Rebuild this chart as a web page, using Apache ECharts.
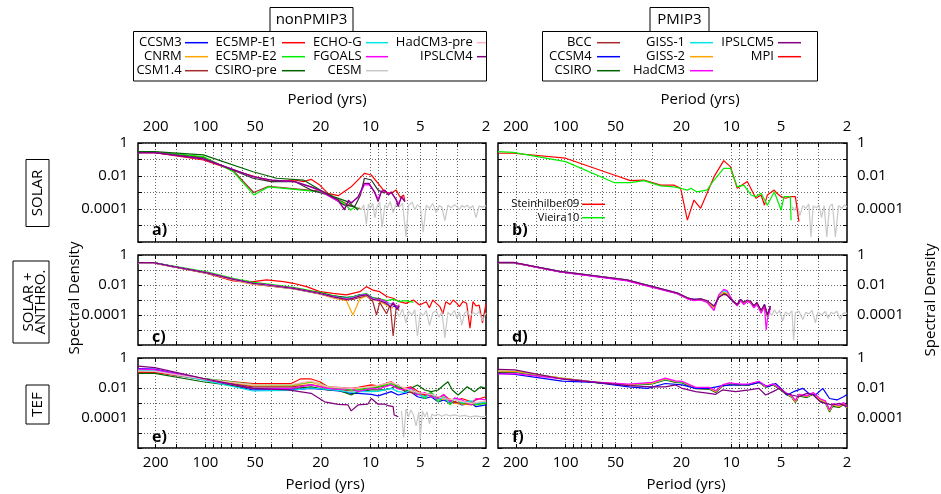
<!DOCTYPE html>
<html><head><meta charset="utf-8">
<script src="https://cdn.jsdelivr.net/npm/echarts@6.0.0/dist/echarts.min.js"></script>
<style>html,body{margin:0;padding:0;background:#fff}#c{width:941px;height:494px}</style>
</head><body><div id="c"></div><script>
// ---------- tick labels ----------
const PERIOD_MAJOR = [200, 100, 50, 20, 10, 5, 2];
const PERIOD_GRID = [200, 150, 100, 90, 80, 70, 60, 50, 40, 30, 20, 10, 9, 8, 7, 6, 5, 4, 3];
const PERIOD_MIN = 2, PERIOD_MAX = 256;
const Y_LABELS = {0: '1', '-2': '0.01', '-4': '0.0001'};

// ---------- colours ----------
const C = {blue:'#0000ff', orange:'#ffa500', brown:'#a52a2a', red:'#ff0000', lgreen:'#00ee00', dgreen:'#006400',
  cyan:'#00e5e5', magenta:'#ff00ff', gray:'#c8c8c8', pink:'#ffb6c1', purple:'#800080', dark:'#333333'};

// ---------- panel a : SOLAR nonPMIP3  [period, spectral density] ----------
const a_csm14 = [[256,0.28],[203,0.27],[103,0.14],[67.7,0.02],[51,0.001],[41.5,0.0024],[20.3,0.0012],[17.3,0.0006],[14.5,0.00025],[12.5,0.00013],[11.5,0.0001]];
const a_ec5e1 = [[256,0.26],[203,0.26],[103,0.093],[63.5,0.018],[51.5,0.010],[40,0.0046],[28.8,0.0057],[25.5,0.0046],[22.9,0.0063],[20.3,0.0028],[18.1,0.00089],[15.7,0.00064],[13.1,0.0022],[10.9,0.0145],[9.9,0.0115],[9.0,0.0036],[8.2,0.0011],[7.5,0.00089],[7.0,0.0014],[6.6,0.0005],[6.3,0.0007],[6.2,0.00028]];
const a_ec5e2 = [[256,0.28],[203,0.27],[103,0.15],[67.7,0.018],[51,0.00071],[41.5,0.0022],[20.3,0.0011],[17.3,0.00056],[14.5,0.00022],[13.2,0.000087],[12.4,0.00014],[11.9,0.000087]];
const a_csiropre = [[256,0.30],[203,0.30],[103,0.19],[51.5,0.018],[37,0.0073],[25.5,0.0057],[20.2,0.0014],[16.8,0.00056],[13.8,0.00028],[11.9,0.000087]];
const a_dark = [[256,0.26],[203,0.26],[103,0.12],[51.5,0.0073],[40,0.0046],[28.8,0.0046],[22.9,0.0014],[18.1,0.00071],[14.4,0.00017],[12.5,0.000138],[11.5,0.00071],[10.9,0.0073],[9.9,0.0057],[9.0,0.0014],[8.2,0.00089]];
const a_fgoals = [[256,0.26],[203,0.26],[103,0.11],[51.5,0.009],[40,0.0057],[28.8,0.0046],[22.9,0.0021],[20.3,0.0013],[17.3,0.0005],[15.7,0.0003],[14.4,0.0001],[13.6,0.0003],[13.1,0.00025],[11.9,0.0005],[10.9,0.0029],[10.2,0.003],[9.5,0.0012],[9.0,0.0004],[8.6,0.0012],[8.2,0.0013],[7.8,0.0008],[7.5,0.001],[7.0,0.0004],[6.8,0.0002],[6.5,0.0005],[6.2,0.0003]];
const a_cesm = [[11.8,0.00014],[11.4,0.00009],[11.0,0.00018],[10.6,0.000012],[10.3,0.0002],[10.0,0.00011],[9.7,0.00022],[9.4,0.00003],[9.1,0.00016],[8.8,0.00025],[8.5,0.000008],[8.2,0.00017],[7.9,0.00012],[7.6,0.00028],[7.3,0.00006],[7.0,0.0002],[6.7,0.00013],[6.4,0.00022],[6.1,0.000002],[5.9,0.00016],[5.6,0.00026],[5.4,0.00009],[5.2,0.00018],[5.0,0.00013],[4.8,0.000004],[4.6,0.00017],[4.4,0.00011],[4.2,0.00021],[4.0,0.00006],[3.85,0.00016],[3.7,0.00013],[3.55,0.00002],[3.4,0.00017],[3.25,0.00012],[3.1,0.00018],[3.0,0.00014],[2.9,0.00009],[2.8,0.00016],[2.7,0.00013],[2.6,0.00017],[2.5,0.00011],[2.4,0.00016],[2.3,0.00003],[2.2,0.00015],[2.1,0.00013],[2.0,0.00016]];
const a_ipslcm4 = [[256,0.26],[203,0.26],[103,0.11],[51.5,0.0091],[40,0.0057],[28.8,0.0046],[22.9,0.0022],[20.3,0.0014],[17.3,0.00056],[15.7,0.00035],[14.4,0.000087],[13.6,0.00035],[13.1,0.00022],[11.9,0.00056],[10.9,0.0036],[10.2,0.0036],[9.5,0.0011],[9.0,0.00028],[8.6,0.0011],[8.2,0.0014],[7.8,0.0007],[7.5,0.0011],[7.0,0.00035],[6.8,0.00014],[6.5,0.00056],[6.2,0.00028]];

// ---------- panel b : SOLAR PMIP3 ----------
const b_stein = [[256,0.24],[207,0.24],[100,0.12],[51,0.0115],[40.6,0.0052],[33.7,0.0057],[26.7,0.0028],[22.2,0.0028],[20.2,0.0018],[18.4,0.000021],[16.8,0.00035],[15.3,0.00011],[14,0.00089],[12.7,0.0091],[11.1,0.085],[10.1,0.036],[9.2,0.0018],[8,0.0046],[7.1,0.00045],[6.6,0.00071],[6.3,0.00017],[6.05,0.00071],[5.5,0.0014],[5.3,0.00089],[5.0,0.00056],[4.7,0.00045],[4.4,0.00056],[4.1,0.00056],[3.9,0.000017]];
const b_vieira = [[256,0.30],[207,0.27],[100,0.074],[51,0.0040],[40.6,0.0040],[33.7,0.0052],[26.7,0.0025],[22.2,0.0022],[20.2,0.0018],[18.4,0.0014],[17.5,0.0018],[16.2,0.0011],[14.0,0.0014],[12.7,0.0057],[11.1,0.029],[10.1,0.029],[9.2,0.0022],[8.4,0.0028],[7.6,0.00071],[7.1,0.00056],[6.6,0.00089],[6.05,0.00017],[5.5,0.0011],[5.0,0.000087],[4.8,0.00056],[4.4,0.00056],[4.35,0.000021]];
const b_gray = [[4.3,0.00015],[4.15,0.00008],[4.0,0.00019],[3.85,0.00004],[3.7,0.00016],[3.55,0.00011],[3.4,0.0002],[3.3,0.000002],[3.2,0.00015],[3.05,0.00012],[2.95,0.00018],[2.85,0.00003],[2.75,0.00016],[2.65,0.000002],[2.55,0.00014],[2.45,0.0002],[2.35,0.000002],[2.25,0.00016],[2.15,0.00011],[2.07,0.00018],[2.0,0.00013]];

// ---------- panel c : SOLAR + ANTHRO. nonPMIP3 ----------
const c_ccsm3 = [[256,0.31],[207,0.31],[156,0.17],[98,0.063],[67.8,0.023],[51.3,0.012],[42.6,0.0095],[29.4,0.0058],[20.3,0.0026],[16.9,0.0016],[14,0.0012],[12.8,0.0014],[11.6,0.0019],[10.6,0.0021],[9.7,0.0012],[8.8,0.0009],[8.0,0.0005],[7.3,0.0004],[6.7,0.00028]];
const c_cnrm = [[256,0.3],[207,0.3],[156,0.16],[98,0.06],[67.8,0.02],[51.3,0.011],[42.6,0.009],[29.4,0.0055],[20.3,0.0025],[16.9,0.0014],[14,0.0009],[12.8,0.0001],[11.6,0.0012],[10.6,0.0018],[9.7,0.0011],[8.8,0.0008],[8.0,0.00045],[7.3,0.0003]];
const c_csm14 = [[256,0.31],[207,0.3],[156,0.16],[98,0.062],[67.8,0.022],[51.3,0.012],[42.6,0.009],[29.4,0.0056],[20.3,0.0025],[16.9,0.0015],[14,0.001],[12.8,0.0011],[11.6,0.0015],[10.6,0.002],[9.7,0.0008],[9.2,0.0001],[8.8,0.0007],[8.0,0.00012],[7.6,0.0005],[7.3,0.000004],[7.0,0.0003],[6.7,0.0002]];
const c_ec5e1 = [[256,0.31],[207,0.31],[156,0.17],[98,0.06],[67.8,0.019],[51.3,0.017],[42.6,0.022],[33.7,0.017],[29.4,0.013],[24.4,0.0078],[20.3,0.0036],[16.9,0.0028],[14,0.0022],[11.6,0.0036],[10.6,0.0078],[9.7,0.0046],[8.8,0.0036],[8.0,0.0017],[7.3,0.0013],[6.7,0.00077],[6.1,0.0006],[5.5,0.001],[5.05,0.00046],[4.6,0.00077],[4.4,0.0003],[4.2,0.001],[4.0,0.0006],[3.8,0.00036],[3.65,0.00012],[3.5,0.00077],[3.3,0.0005],[3.16,0.001],[3.0,0.0006],[2.9,0.00036],[2.75,0.0008],[2.62,0.0006],[2.5,0.000013],[2.4,0.00077],[2.3,0.0004],[2.2,0.00046],[2.1,0.00003],[2.0,0.0006]];
const c_ec5e2 = [[256,0.31],[207,0.31],[156,0.18],[98,0.075],[67.8,0.028],[51.3,0.015],[42.6,0.012],[29.4,0.007],[20.3,0.0033],[16.9,0.002],[14,0.0014],[12.8,0.0016],[11.6,0.0022],[10.6,0.0027],[9.7,0.0014],[8.8,0.0012],[8.0,0.0009],[7.3,0.0011],[6.7,0.0008],[6.1,0.0009],[5.5,0.0007]];
const c_csiropre = [[256,0.31],[207,0.31],[156,0.17],[98,0.065],[67.8,0.024],[51.3,0.013],[42.6,0.0105],[29.4,0.0063],[20.3,0.003],[16.9,0.0019],[14,0.0015],[12.8,0.0016],[11.6,0.0023],[10.6,0.0024],[9.7,0.0014],[8.8,0.0012],[8.0,0.0006],[7.3,0.0005],[6.7,0.00035]];
const c_echog = [[256,0.31],[207,0.31],[156,0.17],[98,0.064],[67.8,0.024],[51.3,0.013],[42.6,0.01],[29.4,0.0058],[20.3,0.0027],[16.9,0.0017],[14,0.0013],[12.8,0.0015],[11.6,0.0021],[10.6,0.0024],[9.7,0.0013],[8.8,0.001],[8.0,0.0007],[7.3,0.0005]];
const c_fgoals = [[256,0.31],[207,0.31],[156,0.17],[98,0.066],[67.8,0.025],[51.3,0.013],[42.6,0.0105],[29.4,0.0062],[20.3,0.0028],[16.9,0.0017],[14,0.0012],[12.8,0.0014],[11.6,0.002],[10.6,0.0024],[9.7,0.0012],[8.8,0.0011],[8.0,0.0008],[7.6,0.0004],[7.3,0.0007],[6.9,0.0003],[6.7,0.0005]];
const c_cesm = [[7.0,0.0002],[6.7,0.00008],[6.4,0.00025],[6.1,0.00003],[5.9,0.00018],[5.6,0.0001],[5.4,0.00022],[5.2,0.000004],[5.0,0.00015],[4.8,0.00009],[4.6,0.0002],[4.4,0.00002],[4.2,0.00014],[4.0,0.0002],[3.85,0.00007],[3.7,0.00017],[3.55,0.000003],[3.4,0.00015],[3.25,0.0001],[3.1,0.0002],[3.0,0.00006],[2.9,0.00016],[2.8,0.00002],[2.7,0.00013],[2.6,0.00018],[2.5,0.00008],[2.4,0.00015],[2.3,0.00011],[2.2,0.00017],[2.1,0.00004],[2.0,0.00014]];
const c_hadcm3pre = [[256,0.3],[207,0.3],[156,0.165],[98,0.062],[67.8,0.022],[51.3,0.012],[42.6,0.0095],[29.4,0.0058],[20.3,0.0026],[16.9,0.0015],[14,0.0011],[12.8,0.0013],[11.6,0.0018],[10.6,0.0021],[9.7,0.0011],[8.8,0.0009],[8.0,0.0006],[7.3,0.0004]];
const c_ipslcm4 = [[256,0.31],[207,0.31],[156,0.17],[98,0.065],[67.8,0.024],[51.3,0.013],[42.6,0.01],[29.4,0.006],[20.3,0.0027],[16.9,0.0016],[14,0.0011],[12.8,0.0013],[11.6,0.0019],[10.6,0.0022],[9.7,0.0011],[8.8,0.0009],[8.0,0.0006],[7.6,0.00035],[7.3,0.0006],[6.9,0.00025],[6.7,0.0004]];

// ---------- panel d : SOLAR + ANTHRO. PMIP3 ----------
const d_bcc = [[256,0.31],[207,0.31],[108,0.077],[42.6,0.021],[21.2,0.0028],[18.4,0.0013],[16.8,0.001],[15.3,0.0011],[14,0.0008],[12.7,0.0003],[11.9,0.0015],[11.1,0.0026],[10.6,0.0022],[9.8,0.0008],[9.2,0.00046],[8.8,0.001],[8.4,0.0006],[8.0,0.0009],[7.6,0.0007],[7.3,0.00036],[7.0,0.0006],[6.6,0.00017],[6.3,0.00046],[6.05,0.00008],[5.8,0.00036]];
const d_ccsm4 = [[256,0.31],[207,0.31],[108,0.076],[42.6,0.02],[21.2,0.0027],[18.4,0.0013],[16.8,0.0011],[15.3,0.0011],[14,0.00075],[12.7,0.00032],[11.9,0.0016],[11.1,0.0029],[10.6,0.0024],[9.8,0.0008],[9.2,0.0005],[8.8,0.0011],[8.4,0.0006],[8.0,0.0009],[7.6,0.00065],[7.3,0.0004],[7.0,0.0006],[6.6,0.0002],[6.3,0.0005],[6.05,0.0001],[5.8,0.0004]];
const d_csiro = [[256,0.31],[207,0.31],[108,0.078],[42.6,0.021],[21.2,0.0029],[18.4,0.0014],[16.8,0.001],[15.3,0.0012],[14,0.0008],[12.7,0.00035],[11.9,0.0016],[11.1,0.0027],[10.6,0.0023],[9.8,0.0009],[9.2,0.0005],[8.8,0.001],[8.4,0.00065],[8.0,0.0009],[7.6,0.0007],[7.3,0.0004],[7.0,0.00055],[6.6,0.0002],[6.3,0.0004],[6.05,0.0001],[5.8,0.0003]];
const d_giss1 = [[256,0.31],[207,0.31],[108,0.08],[42.6,0.022],[21.2,0.0029],[18.4,0.0013],[16.8,0.001],[15.3,0.0011],[14,0.0008],[12.7,0.0003],[11.9,0.0019],[11.1,0.0042],[10.6,0.0033],[9.8,0.0009],[9.2,0.00046],[8.8,0.001],[8.4,0.0006],[8.0,0.0009],[7.6,0.0007],[7.3,0.00036],[7.0,0.0006],[6.6,0.00017],[6.3,0.00046],[6.05,0.00008],[5.8,0.00036]];
const d_giss2 = [[256,0.31],[207,0.31],[108,0.079],[42.6,0.021],[21.2,0.0028],[18.4,0.0013],[16.8,0.001],[15.3,0.0011],[14,0.0008],[12.7,0.0003],[11.9,0.0017],[11.1,0.0032],[10.6,0.0027],[9.8,0.0009],[9.2,0.00046],[8.8,0.001],[8.4,0.0006],[8.0,0.0009],[7.6,0.0007],[7.3,0.00036],[7.0,0.0006],[6.6,0.00018],[6.3,0.00045],[6.05,0.00009],[5.8,0.00035]];
const d_hadcm3 = [[256,0.31],[207,0.31],[108,0.074],[42.6,0.019],[21.2,0.0026],[18.4,0.0012],[16.8,0.0009],[15.3,0.001],[14,0.0007],[12.7,0.0002],[11.9,0.0022],[11.1,0.0051],[10.6,0.0042],[9.8,0.0009],[9.2,0.0004],[8.8,0.0009],[8.4,0.0005],[8.0,0.0008],[7.6,0.0006],[7.3,0.0003],[7.0,0.0005],[6.6,0.00013],[6.3,0.00035],[6.15,0.00001],[6.05,0.00005],[5.8,0.0003]];
const d_ipslcm5 = [[256,0.32],[207,0.32],[108,0.082],[42.6,0.022],[21.2,0.003],[18.4,0.0014],[16.8,0.0011],[15.3,0.0012],[14,0.0009],[12.7,0.0004],[11.9,0.0015],[11.1,0.0024],[10.6,0.0021],[9.8,0.0009],[9.2,0.0005],[8.8,0.0011],[8.4,0.0007],[8.0,0.001],[7.6,0.0008],[7.3,0.0004],[7.0,0.0007],[6.6,0.0002],[6.3,0.0005],[6.05,0.0001],[5.8,0.0004]];
const d_mpi = [[256,0.31],[207,0.31],[108,0.078],[42.6,0.021],[21.2,0.0028],[18.4,0.0013],[16.8,0.001],[15.3,0.0011],[14,0.0008],[12.7,0.0003],[11.9,0.0016],[11.1,0.0027],[10.6,0.0023],[9.8,0.0008],[9.2,0.00046],[8.8,0.001],[8.4,0.0006],[8.0,0.0009],[7.6,0.0007],[7.3,0.00036],[7.0,0.0006],[6.6,0.00017],[6.3,0.00046],[6.05,0.00008],[5.8,0.00036]];
const d_gray = [[5.9,0.00018],[5.7,0.00009],[5.5,0.00022],[5.3,0.00012],[5.1,0.0002],[4.9,0.00004],[4.7,0.00016],[4.5,0.00011],[4.3,0.00019],[4.2,0.000002],[4.1,0.00014],[3.9,0.00018],[3.7,0.00005],[3.55,0.00015],[3.4,0.00012],[3.25,0.0002],[3.1,0.00003],[3.0,0.00016],[2.85,0.0001],[2.7,0.00017],[2.6,0.00006],[2.5,0.00015],[2.4,0.00012],[2.3,0.00018],[2.2,0.00005],[2.1,0.00014],[2.0,0.00013]];

// ---------- panel e : TEF nonPMIP3 ----------
const e_ccsm3 = [[256,0.2],[203,0.18],[103.5,0.04],[51.5,0.0074],[30.2,0.0074],[22.9,0.0095],[18.1,0.0074],[15.7,0.0063],[13.1,0.0044],[11.9,0.0044],[9.9,0.0038],[9.0,0.003],[7.5,0.0057],[6.8,0.0034],[6.2,0.0044],[5.7,0.0057],[5.2,0.0026],[4.7,0.002],[4.3,0.0026],[3.9,0.0012],[3.6,0.0016],[3.3,0.00095],[3.1,0.0012],[2.8,0.00074],[2.45,0.00095],[2.3,0.00057],[2.0,0.00074]];
const e_cnrm = [[256,0.12],[203,0.12],[103.5,0.04],[51.5,0.014],[30.2,0.014],[22.9,0.024],[18.1,0.011],[13.1,0.0086],[9.9,0.012],[7.5,0.02],[6.2,0.0082],[5.2,0.0044],[4.3,0.0034],[3.9,0.0016],[3.3,0.002],[3.1,0.00095],[2.45,0.00074],[2.0,0.0012]];
const e_csm14 = [[256,0.12],[203,0.12],[103.5,0.036],[51.5,0.012],[30.2,0.012],[22.9,0.017],[18.1,0.0095],[13.1,0.0063],[9.9,0.0095],[7.5,0.016],[6.2,0.0063],[5.2,0.0038],[4.3,0.003],[3.6,0.0022],[3.1,0.0011],[2.45,0.00082],[2.0,0.0011]];
const e_ec5e1 = [[256,0.11],[203,0.11],[103.5,0.04],[51.5,0.02],[30.2,0.02],[26.6,0.04],[22.9,0.04],[20.3,0.026],[18.1,0.012],[15.7,0.011],[13.1,0.0095],[11.9,0.011],[9.9,0.016],[9.0,0.014],[7.5,0.026],[6.8,0.012],[6.2,0.0095],[5.7,0.012],[5.2,0.0063],[4.7,0.0034],[4.3,0.0044],[3.9,0.002],[3.6,0.0034],[3.3,0.0016],[3.1,0.0012],[2.8,0.002],[2.45,0.0012],[2.3,0.0016],[2.0,0.0026]];
const e_ec5e2 = [[256,0.16],[203,0.14],[103.5,0.044],[51.5,0.017],[30.2,0.016],[26.6,0.02],[22.9,0.026],[20.3,0.02],[18.1,0.012],[15.7,0.0095],[13.1,0.0074],[11.9,0.0074],[9.9,0.011],[9.0,0.012],[7.5,0.02],[6.8,0.012],[6.2,0.0074],[5.7,0.0095],[5.2,0.0044],[4.7,0.002],[4.3,0.0057],[3.9,0.0012],[3.6,0.0026],[3.3,0.00074],[3.1,0.002],[2.8,0.00095],[2.45,0.0012],[2.3,0.00074],[2.0,0.00095]];
const e_csiropre = [[256,0.095],[203,0.095],[103.5,0.026],[51.5,0.0095],[30.2,0.0095],[22.9,0.012],[18.1,0.0074],[15.7,0.0074],[13.1,0.0034],[11.9,0.0057],[9.9,0.0074],[8.2,0.0074],[7.5,0.0095],[6.8,0.016],[6.2,0.0057],[5.7,0.0095],[5.2,0.016],[4.7,0.0074],[4.3,0.0057],[3.9,0.0074],[3.6,0.016],[3.4,0.026],[3.2,0.0074],[2.95,0.0034],[2.6,0.012],[2.35,0.0057],[2.15,0.012],[2.0,0.0095]];
const e_echog = [[256,0.16],[203,0.14],[103.5,0.034],[51.5,0.0063],[30.2,0.007],[22.9,0.01],[18.1,0.008],[15.7,0.007],[13.1,0.005],[11.9,0.006],[9.9,0.0057],[9.0,0.006],[7.5,0.0095],[6.8,0.0057],[6.2,0.005],[5.7,0.0074],[5.2,0.004],[4.7,0.0026],[4.3,0.004],[3.9,0.0018],[3.6,0.0022],[3.3,0.0012],[3.1,0.0018],[2.8,0.0011],[2.45,0.0014],[2.3,0.00095],[2.0,0.0012]];
const e_fgoals = [[256,0.18],[203,0.17],[103.5,0.04],[51.5,0.0095],[30.2,0.0095],[22.9,0.016],[18.1,0.0095],[15.7,0.0082],[13.1,0.0095],[11.9,0.0057],[9.9,0.0095],[9.0,0.0086],[7.5,0.016],[6.8,0.0086],[6.2,0.0074],[5.7,0.0105],[5.2,0.0034],[4.7,0.005],[4.3,0.0026],[3.9,0.002],[3.6,0.0038],[3.3,0.0012],[3.1,0.0022],[2.8,0.0016],[2.45,0.00074],[2.3,0.002],[2.0,0.0016]];
const e_cesm = [[6.5,0.0003],[6.3,0.000005],[6.1,0.0004],[5.9,0.00012],[5.7,0.00035],[5.5,0.00016],[5.3,0.00003],[5.1,0.00025],[5.0,0.000004],[4.85,0.0003],[4.7,0.00012],[4.55,0.00025],[4.4,0.00004],[4.25,0.00018],[4.1,0.00014],[3.9,0.00018],[3.7,0.00013],[3.5,0.00017],[3.3,0.00014],[3.1,0.00016],[2.9,0.00013],[2.7,0.00015],[2.5,0.00012],[2.3,0.00014],[2.15,0.00012],[2.0,0.00013]];
const e_hadcm3pre = [[256,0.135],[203,0.13],[103.5,0.04],[51.5,0.016],[30.2,0.017],[22.9,0.029],[18.1,0.012],[13.1,0.0095],[9.9,0.012],[7.5,0.024],[6.2,0.0095],[5.2,0.005],[4.3,0.0038],[3.6,0.002],[3.1,0.0016],[2.45,0.00095],[2.0,0.0014]];
const e_ipslcm4 = [[256,0.29],[203,0.23],[103.5,0.044],[51.5,0.0095],[31.6,0.0074],[22.9,0.0044],[19,0.0012],[15.7,0.00082],[13.7,0.00074],[13.1,0.0003],[11.9,0.00074],[10.4,0.00083],[9.9,0.002],[9.0,0.00083],[8.2,0.00083],[7.8,0.00066],[7.3,0.00057],[7.2,0.00016],[6.8,0.00012]];

// ---------- panel f : TEF PMIP3 ----------
const f_bcc = [[256,0.11],[202,0.11],[105,0.044],[66,0.024],[41.6,0.016],[30,0.02],[25,0.036],[21.7,0.026],[19.8,0.024],[16.4,0.0095],[13.6,0.009],[12.4,0.0055],[11.3,0.0135],[10.3,0.019],[9.4,0.017],[8.6,0.016],[7.8,0.017],[6.8,0.025],[6.2,0.012],[5.6,0.017],[5.1,0.009],[4.7,0.0042],[4.3,0.0025],[4.1,0.0012],[3.9,0.0033],[3.5,0.0025],[3.2,0.0042],[2.9,0.0016],[2.7,0.0012],[2.55,0.0003],[2.44,0.0007],[2.23,0.00055],[2.1,0.0009],[2.0,0.0005]];
const f_ccsm4 = [[256,0.095],[202,0.082],[105,0.029],[66,0.024],[41.6,0.012],[32,0.0095],[25,0.02],[19.8,0.016],[16.4,0.0095],[13.6,0.0095],[11.3,0.0144],[9.4,0.016],[7.8,0.016],[6.8,0.024],[6.0,0.012],[5.4,0.02],[5.0,0.0095],[4.6,0.0034],[4.2,0.0057],[3.7,0.0095],[3.4,0.0044],[3.1,0.0034],[2.8,0.0095],[2.55,0.002],[2.3,0.0016],[2.1,0.0026],[2.0,0.0037]];
const f_csiro = [[256,0.12],[202,0.12],[105,0.042],[66,0.023],[41.6,0.015],[30,0.019],[25,0.034],[21.7,0.024],[19.8,0.022],[16.4,0.009],[13.6,0.0085],[12.4,0.005],[11.3,0.013],[10.3,0.018],[9.4,0.016],[8.6,0.015],[7.8,0.016],[6.8,0.024],[6.2,0.011],[5.6,0.016],[5.1,0.0085],[4.7,0.004],[4.3,0.0023],[4.1,0.0011],[3.9,0.003],[3.5,0.0023],[3.2,0.0038],[2.9,0.0014],[2.7,0.001],[2.55,0.00025],[2.44,0.0006],[2.23,0.0005],[2.1,0.0008],[2.0,0.00045]];
const f_giss1 = [[256,0.13],[202,0.125],[105,0.045],[66,0.025],[41.6,0.016],[30,0.021],[25,0.038],[21.7,0.027],[19.8,0.025],[16.4,0.01],[13.6,0.0095],[12.4,0.0058],[11.3,0.014],[10.3,0.02],[9.4,0.018],[8.6,0.016],[7.8,0.018],[6.8,0.026],[6.2,0.012],[5.6,0.018],[5.1,0.0095],[4.7,0.0044],[4.3,0.0026],[4.1,0.0013],[3.9,0.0034],[3.5,0.0026],[3.2,0.0044],[2.9,0.0016],[2.7,0.0012],[2.55,0.0003],[2.44,0.00075],[2.23,0.0006],[2.1,0.00095],[2.0,0.0005]];
const f_giss2 = [[256,0.135],[202,0.13],[105,0.046],[66,0.025],[41.6,0.017],[30,0.021],[25,0.04],[21.7,0.027],[19.8,0.026],[16.4,0.0095],[13.6,0.0095],[12.4,0.0057],[11.3,0.0144],[10.3,0.02],[9.4,0.0175],[8.6,0.016],[7.8,0.0175],[6.8,0.026],[6.2,0.012],[5.6,0.0175],[5.1,0.0095],[4.7,0.0044],[4.3,0.0026],[4.1,0.0012],[3.9,0.0034],[3.5,0.0026],[3.2,0.0044],[2.9,0.0016],[2.7,0.0012],[2.55,0.0003],[2.44,0.00074],[2.23,0.00057],[2.1,0.00095],[2.0,0.0005]];
const f_hadcm3 = [[256,0.086],[202,0.09],[105,0.04],[66,0.025],[41.6,0.018],[30,0.024],[25,0.046],[21.7,0.03],[19.8,0.028],[16.4,0.011],[13.6,0.011],[12.4,0.0065],[11.3,0.016],[10.3,0.022],[9.4,0.02],[8.6,0.018],[7.8,0.019],[6.8,0.028],[6.2,0.013],[5.6,0.019],[5.1,0.01],[4.7,0.005],[4.3,0.003],[4.1,0.0015],[3.9,0.0038],[3.5,0.003],[3.2,0.005],[2.9,0.0019],[2.7,0.0014],[2.55,0.00035],[2.44,0.0009],[2.23,0.0007],[2.1,0.0011],[2.0,0.0006]];
const f_ipslcm5 = [[256,0.175],[202,0.16],[105,0.04],[41.6,0.0144],[30,0.012],[25,0.012],[21.7,0.016],[19.8,0.0095],[16.4,0.0057],[13.6,0.0044],[12.4,0.0038],[11.3,0.0074],[9.4,0.0057],[7.8,0.0074],[6.8,0.0095],[6.2,0.0034],[5.6,0.0057],[5.1,0.0095],[4.7,0.0044],[4.3,0.0034],[3.9,0.0026],[3.5,0.0044],[3.2,0.0034],[2.9,0.0012],[2.7,0.00095],[2.44,0.00074],[2.23,0.00095],[2.0,0.00057]];
const f_mpi = [[256,0.12],[202,0.12],[105,0.044],[66,0.024],[41.6,0.016],[30,0.02],[25,0.038],[21.7,0.026],[19.8,0.025],[16.4,0.0095],[13.6,0.009],[12.4,0.0056],[11.3,0.014],[10.3,0.019],[9.4,0.017],[8.6,0.016],[7.8,0.017],[6.8,0.025],[6.2,0.012],[5.6,0.017],[5.1,0.009],[4.7,0.0043],[4.3,0.0025],[4.1,0.0012],[3.9,0.0033],[3.5,0.0025],[3.2,0.0043],[2.9,0.0016],[2.7,0.0012],[2.55,0.0003],[2.44,0.0007],[2.23,0.00056],[2.1,0.0009],[2.0,0.0005]];

// ---------- layout ----------
const FONT = '"Open Sans", "DejaVu Sans", sans-serif';
const GRIDS = [
  {left:138, top:143, width:348, height:99}, {left:498, top:143, width:349, height:99},
  {left:138, top:255, width:348, height:90}, {left:498, top:255, width:349, height:90},
  {left:138, top:358, width:348, height:90}, {left:498, top:358, width:349, height:90}
];
const L = v => Math.log10(v);
const xAxes = [], yAxes = [];
GRIDS.forEach((g, i) => {
  const topLabels = i < 2, bottomLabels = i >= 4, leftLabels = i % 2 === 0;
  ['bottom', 'top'].forEach(pos => {
    const show = pos === 'top' ? topLabels : bottomLabels;
    xAxes.push({type:'value', gridIndex:i, position:pos, min:L(PERIOD_MIN), max:L(PERIOD_MAX), inverse:true,
      axisLine:{show:false},
      axisTick:{show:true, inside:true, length:4, customValues:PERIOD_GRID.map(L), lineStyle:{color:'#000', width:1}},
      axisLabel:{show:show, customValues:PERIOD_MAJOR.map(L), formatter:v => String(Math.round(Math.pow(10, v))),
        fontSize:15, color:'#000', fontFamily:FONT, margin: pos === 'top' ? 9 : 7},
      splitLine:{show: pos === 'bottom', lineStyle:{type:[1,2], color:'#666', width:1}}});
  });
  ['left', 'right'].forEach(pos => {
    const show = pos === 'left' ? leftLabels : !leftLabels;
    yAxes.push({type:'log', gridIndex:i, position:pos, min:1e-6, max:1, logBase:10, interval:1, splitNumber:6,
      axisLine:{show:false},
      axisTick:{show:true, inside:true, length:4, lineStyle:{color:'#000'}},
      axisLabel:{show:show, fontSize:15, color:'#000', fontFamily:FONT, margin:10,
        formatter:v => { const e = Math.round(Math.log10(v)); return Y_LABELS[e] || ''; }},
      splitLine:{show: pos === 'left', lineStyle:{type:[1,2], color:'#666', width:1}},
      minorTick:{show:false}});
  });
});

const series = [];
function add(grid, name, color, data, width) {
  series.push({type:'line', name, xAxisIndex:grid*2, yAxisIndex:grid*2,
    data:data.map(d => [L(d[0]), d[1]]), showSymbol:false, symbol:'none', silent:true, animation:false,
    lineStyle:{color, width: width || 1.2}, itemStyle:{color}});
}
// panel a
add(0,'CSM1.4',C.brown,a_csm14); add(0,'EC5MP-E1',C.red,a_ec5e1); add(0,'EC5MP-E2',C.lgreen,a_ec5e2);
add(0,'CSIRO-pre',C.dgreen,a_csiropre); add(0,'dark',C.dark,a_dark); add(0,'FGOALS',C.magenta,a_fgoals);
add(0,'CESM',C.gray,a_cesm); add(0,'IPSLCM4',C.purple,a_ipslcm4);
// panel b
add(1,'gray',C.gray,b_gray); add(1,'Steinhilber09',C.red,b_stein); add(1,'Vieira10',C.lgreen,b_vieira);
// panel c
add(2,'CCSM3',C.blue,c_ccsm3); add(2,'CNRM',C.orange,c_cnrm); add(2,'CSM1.4',C.brown,c_csm14);
add(2,'EC5MP-E1',C.red,c_ec5e1); add(2,'EC5MP-E2',C.lgreen,c_ec5e2); add(2,'CSIRO-pre',C.dgreen,c_csiropre);
add(2,'ECHO-G',C.cyan,c_echog); add(2,'FGOALS',C.magenta,c_fgoals); add(2,'CESM',C.gray,c_cesm);
add(2,'HadCM3-pre',C.pink,c_hadcm3pre); add(2,'IPSLCM4',C.purple,c_ipslcm4);
// panel d
add(3,'gray',C.gray,d_gray);
add(3,'MPI',C.red,d_mpi); add(3,'BCC',C.brown,d_bcc); add(3,'CCSM4',C.blue,d_ccsm4); add(3,'CSIRO',C.dgreen,d_csiro);
add(3,'GISS-1',C.cyan,d_giss1); add(3,'GISS-2',C.orange,d_giss2); add(3,'HadCM3',C.magenta,d_hadcm3);
add(3,'IPSLCM5',C.purple,d_ipslcm5);
// panel e
add(4,'CESM',C.gray,e_cesm);
add(4,'CCSM3',C.blue,e_ccsm3); add(4,'CNRM',C.orange,e_cnrm); add(4,'CSM1.4',C.brown,e_csm14);
add(4,'EC5MP-E1',C.red,e_ec5e1); add(4,'EC5MP-E2',C.lgreen,e_ec5e2); add(4,'CSIRO-pre',C.dgreen,e_csiropre);
add(4,'ECHO-G',C.cyan,e_echog); add(4,'FGOALS',C.magenta,e_fgoals);
add(4,'HadCM3-pre',C.pink,e_hadcm3pre); add(4,'IPSLCM4',C.purple,e_ipslcm4);
// panel f
add(5,'MPI',C.red,f_mpi); add(5,'BCC',C.brown,f_bcc); add(5,'CSIRO',C.dgreen,f_csiro);
add(5,'GISS-1',C.cyan,f_giss1); add(5,'GISS-2',C.orange,f_giss2); add(5,'CCSM4',C.blue,f_ccsm4);
add(5,'HadCM3',C.magenta,f_hadcm3); add(5,'IPSLCM5',C.purple,f_ipslcm5);

// ---------- legends / labels (graphic) ----------
const LEG_NON = [
  [181.7, 185, 208, [['CCSM3',C.blue],['CNRM',C.orange],['CSM1.4',C.brown]]],
  [276.7, 282, 305, [['EC5MP-E1',C.red],['EC5MP-E2',C.lgreen],['CSIRO-pre',C.dgreen]]],
  [361.7, 366, 388, [['ECHO-G',C.cyan],['FGOALS',C.magenta],['CESM',C.gray]]],
  [472.7, 477, 486, [['HadCM3-pre',C.pink],['IPSLCM4',C.purple]]]
];
const LEG_PMIP = [
  [591.7, 597, 620, [['BCC',C.brown],['CCSM4',C.blue],['CSIRO',C.dgreen]]],
  [685, 690, 713, [['GISS-1',C.cyan],['GISS-2',C.orange],['HadCM3',C.magenta]]],
  [774, 778, 801, [['IPSLCM5',C.purple],['MPI',C.red]]]
];
const ROW_Y = [42.7, 56.7, 70.7];
const g = [];
function txt(x, y, text, opt) {
  opt = opt || {};
  g.push({type:'text', x, y, rotation: opt.rot || 0, silent:true,
    style:{text, fill:'#000', font:(opt.weight || 'normal') + ' ' + (opt.size || 15) + 'px ' + FONT,
      textAlign: opt.align || 'center', textVerticalAlign:'middle'}});
}
function rect(x, y, w, h) {
  g.push({type:'rect', silent:true, shape:{x, y, width:w, height:h}, style:{fill:null, stroke:'#000', lineWidth:1}});
}
function seg(x1, x2, y, color) {
  g.push({type:'line', silent:true, shape:{x1, y1:y, x2, y2:y}, style:{stroke:color, lineWidth:1.5}});
}
[LEG_NON, LEG_PMIP].forEach(leg => leg.forEach(col => {
  col[3].forEach((it, r) => { txt(col[0], ROW_Y[r], it[0], {align:'right', size:13}); seg(col[1], col[2], ROW_Y[r], it[1]); });
}));
rect(133.5, 31.5, 353, 49.5); rect(270, 7.5, 83, 24); txt(311.5, 20, 'nonPMIP3', {size:15});
rect(542.5, 31.5, 275, 49.5); rect(650, 7.5, 59, 24); txt(679.5, 20, 'PMIP3', {size:15});
txt(327, 100, 'Period (yrs)'); txt(700, 100, 'Period (yrs)');
txt(325, 485, 'Period (yrs)'); txt(686, 485, 'Period (yrs)');
txt(74.5, 298, 'Spectral Density', {rot:Math.PI/2}); txt(931, 300, 'Spectral Density', {rot:Math.PI/2});
rect(26, 159.5, 23, 67); txt(37.5, 193, 'SOLAR', {rot:Math.PI/2});
rect(13, 261, 36, 82); txt(28.5, 302, 'SOLAR +', {rot:Math.PI/2}); txt(41, 302, 'ANTHRO.', {rot:Math.PI/2});
rect(26, 385, 23, 39); txt(37.5, 404.5, 'TEF', {rot:Math.PI/2});
[['a)',152,230],['b)',512,230],['c)',152,337],['d)',512,337],['e)',152,437],['f)',512,437]].forEach(p =>
  txt(p[1], p[2], p[0], {align:'left', weight:'bold', size:16}));
txt(579.3, 204.3, 'Steinhilber09', {align:'right', size:11}); seg(582, 605, 204.3, C.red);
txt(579.3, 217.7, 'Vieira10', {align:'right', size:11}); seg(582, 605, 217.7, C.lgreen);

const chart = echarts.init(document.getElementById('c'), null, {renderer:'canvas'});
chart.setOption({
  animation:false,
  backgroundColor:'#fff',
  grid: GRIDS.map(p => Object.assign({show:true, borderColor:'#000', borderWidth:1.5, backgroundColor:'transparent'}, p)),
  xAxis: xAxes, yAxis: yAxes, series, graphic: g
});
</script></body></html>
